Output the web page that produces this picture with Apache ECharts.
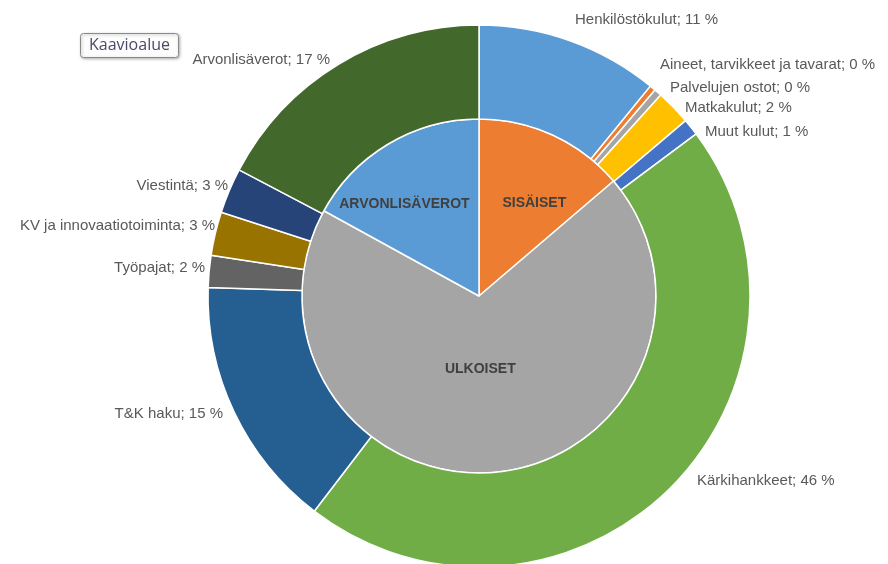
<!DOCTYPE html>
<html>
<head>
<meta charset="utf-8">
<script src="https://cdn.jsdelivr.net/npm/echarts@6/dist/echarts.min.js"></script>
<style>
  html, body { margin: 0; padding: 0; background: #fff; }
  #chart { width: 888px; height: 564px; }
</style>
</head>
<body>
<div id="chart"></div>
<script>
// sisempi rengas: pääryhmät
const innerNames = ['SISÄISET', 'ULKOISET', 'ARVONLISÄVEROT']
const innerValues = [13.75, 69.25, 17.0]
const innerColors = ['#ED7D31', '#A5A5A5', '#5B9BD5']

// ulompi rengas: kululajit
const outerNames = [
  'Henkilöstökulut', 'Aineet, tarvikkeet ja tavarat', 'Palvelujen ostot',
  'Matkakulut', 'Muut kulut', 'Kärkihankkeet', 'T&K haku', 'Työpajat',
  'KV ja innovaatiotoiminta', 'Viestintä', 'Arvonlisäverot'
]
const outerValues = [10.9, 0.35, 0.45, 2.1, 1.0, 45.6, 15.1, 1.9, 2.6, 2.7, 17.3]
const outerColors = [
  '#5B9BD5', '#ED7D31', '#A5A5A5', '#FFC000', '#4472C4', '#70AD47',
  '#255E91', '#636363', '#997300', '#264478', '#43682B'
]

// sisempien nimien siirrot (Excelin sijoittelu)
const innerShift = [[17, -10], [-8, -18], [-28, -13]]

// ulompien nimien paikat: [x, y, tasaus]
const outerLabelPos = [
  [575, 20, 'left'], [660, 65, 'left'], [670, 88, 'left'], [685, 108, 'left'],
  [705, 132, 'left'], [697, 481, 'left'], [223, 414, 'right'], [205, 268, 'right'],
  [215, 226, 'right'], [228, 186, 'right'], [330, 60, 'right']
]

const chart = echarts.init(document.getElementById('chart'))

const option = {
  animation: false,
  title: {
    text: 'Kaavioalue',
    left: 80,
    top: 33,
    padding: [4, 9, 5, 9],
    backgroundColor: '#fdfdfd',
    borderColor: '#8a8a8a',
    borderWidth: 1,
    borderRadius: 3,
    shadowColor: 'rgba(0,0,0,0.3)',
    shadowBlur: 3,
    shadowOffsetX: 1,
    shadowOffsetY: 1,
    textStyle: {
      fontFamily: 'Open Sans',
      fontSize: 16,
      fontWeight: 'normal',
      color: '#4a4a6a'
    }
  },
  series: [
    {
      type: 'pie',
      center: [479, 296],
      radius: [0, 177],
      startAngle: 90,
      clockwise: true,
      itemStyle: { borderColor: '#fff', borderWidth: 1.5 },
      label: {
        position: 'inside',
        fontFamily: 'Liberation Sans',
        fontSize: 14,
        fontWeight: 'bold',
        color: '#404040',
        formatter: '{b}'
      },
      labelLayout: p => ({
        hideOverlap: false,
        dx: innerShift[p.dataIndex][0],
        dy: innerShift[p.dataIndex][1]
      }),
      data: innerNames.map((n, i) => ({
        name: n, value: innerValues[i], itemStyle: { color: innerColors[i] }
      }))
    },
    {
      type: 'pie',
      center: [479, 296],
      radius: [177, 271],
      startAngle: 90,
      clockwise: true,
      itemStyle: { borderColor: '#fff', borderWidth: 1.5 },
      label: {
        position: 'outside',
        fontFamily: 'Liberation Sans',
        fontSize: 15,
        color: '#595959',
        overflow: 'none',
        width: 300,
        formatter: p => p.name + '; ' + Math.round(p.percent) + ' %'
      },
      labelLine: { show: false },
      labelLayout: p => ({
        hideOverlap: false,
        x: outerLabelPos[p.dataIndex][0],
        y: outerLabelPos[p.dataIndex][1],
        align: outerLabelPos[p.dataIndex][2],
        verticalAlign: 'middle'
      }),
      data: outerNames.map((n, i) => ({
        name: n, value: outerValues[i], itemStyle: { color: outerColors[i] }
      }))
    }
  ]
}

chart.setOption(option)
</script>
</body>
</html>
